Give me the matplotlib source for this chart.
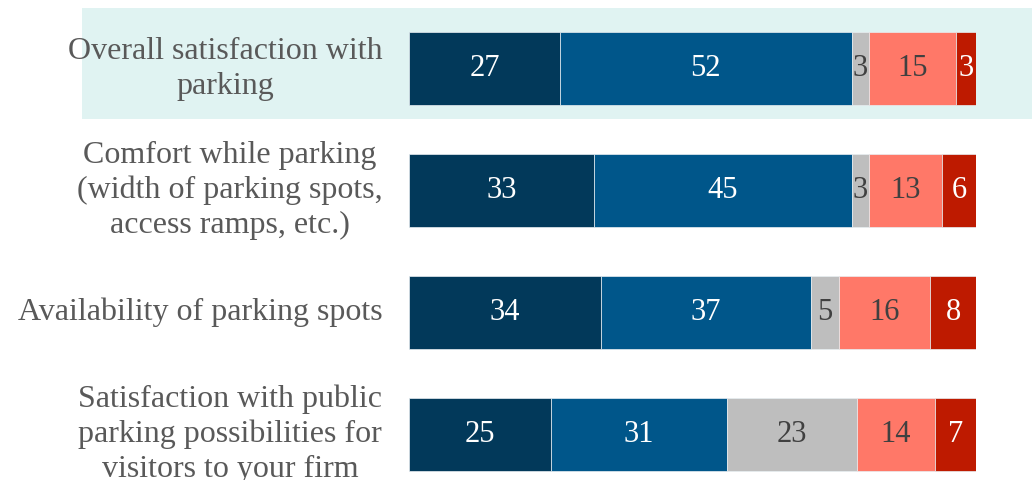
import matplotlib.pyplot as plt
from matplotlib.patches import Rectangle

categories = [
    "Overall satisfaction with\nparking",
    "Comfort while parking\n(width of parking spots,\naccess ramps, etc.)",
    "Availability of parking spots",
    "Satisfaction with public\nparking possibilities for\nvisitors to your firm",
]
# shares (%) as drawn, and the rounded labels shown on the bars
very_satisfied = [26.6, 32.6, 33.9, 25.0]
satisfied = [51.5, 45.5, 37.0, 31.1]
neutral = [3.0, 3.0, 4.9, 22.9]
dissatisfied = [15.4, 12.9, 16.1, 13.8]
very_dissatisfied = [3.5, 6.0, 8.1, 7.2]

labels_very_satisfied = [27, 33, 34, 25]
labels_satisfied = [52, 45, 37, 31]
labels_neutral = [3, 3, 5, 23]
labels_dissatisfied = [15, 13, 16, 14]
labels_very_dissatisfied = [3, 6, 8, 7]

series = [very_satisfied, satisfied, neutral, dissatisfied, very_dissatisfied]
series_labels = [labels_very_satisfied, labels_satisfied, labels_neutral,
                 labels_dissatisfied, labels_very_dissatisfied]
colors = ["#02395a", "#00568a", "#bebebe", "#ff7868", "#be1a00"]
text_colors = ["white", "white", "#404040", "#404040", "white"]

plt.rcParams['font.family'] = ['Liberation Serif', 'DejaVu Serif']

fig = plt.figure(figsize=(10.32, 4.8), dpi=100)

# highlight band behind the first row
fig.patches.append(Rectangle((82 / 1032, 1 - 119 / 480), 1 - 82 / 1032, 111 / 480,
                             transform=fig.transFigure, facecolor="#e0f3f2",
                             edgecolor="none", zorder=-1))

ax = fig.add_axes([409 / 1032, 0, 567 / 1032, 1])
ax.patch.set_alpha(0)

ypos = list(range(len(categories)))
left = [0] * len(categories)
for vals, labs, col, tcol in zip(series, series_labels, colors, text_colors):
    ax.barh(ypos, vals, left=left, height=0.6, color=col,
            edgecolor="#e8eef2", linewidth=0.5)
    for y, v, l, lab in zip(ypos, vals, left, labs):
        ax.text(l + v / 2, y, str(lab), ha="center", va="center",
                color=tcol, fontsize=22)
    left = [a + b for a, b in zip(left, vals)]

for y, cat in zip(ypos, categories):
    ax.text(-4.7, y, cat, ha="right", va="center", multialignment="center",
            color="#595959", fontsize=23, linespacing=1.25)

ax.set_xlim(0, 100)
ax.set_ylim(3.378, -0.567)
ax.axis("off")

fig.savefig("out.png", dpi=100)
